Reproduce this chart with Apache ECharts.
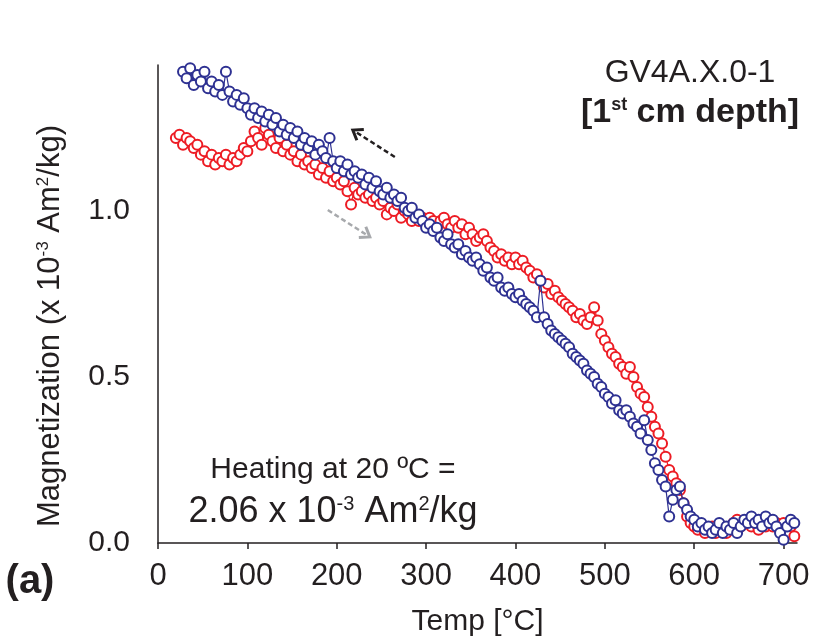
<!DOCTYPE html>
<html>
<head>
<meta charset="utf-8">
<script src="https://cdn.jsdelivr.net/npm/echarts@6/dist/echarts.min.js"></script>
<style>
html,body{margin:0;padding:0;background:#fff;}
#c{width:817px;height:637px;}
</style>
</head>
<body>
<div id="c"></div>
<script>
// Heating curve (red): temperature [°C] and magnetization [x 1e-3 Am2/kg]
const heatTemp = [20,24,28,32,36,40,44,48,52,56,60,64,68,72,76,80,84,88,92,96,100,104,108,112,116,120,124,128,132,136,140,144,148,152,156,160,164,168,172,176,180,184,188,192,196,200,204,208,212,216,220,224,228,232,236,240,244,248,252,256,260,264,268,272,276,280,284,288,292,296,300,304,308,312,316,320,324,328,332,336,340,344,348,352,356,360,364,368,372,376,380,384,388,392,396,400,404,408,412,416,420,424,428,432,436,440,444,448,452,456,460,464,468,472,476,480,484,488,492,496,500,504,508,512,516,520,524,528,532,536,540,544,548,552,556,560,564,568,572,576,580,584,588,592,596,600,604,608,612,616,620,624,628,632,636,640,644,648,652,656,660,664,668,672,676,680,684,688,692,696,700,704,708,712];
const heatMag = [1.22,1.23,1.20,1.22,1.21,1.19,1.20,1.17,1.18,1.15,
1.17,1.14,1.16,1.15,1.17,1.14,1.16,1.15,1.17,1.19,
1.18,1.21,1.24,1.22,1.20,1.25,1.23,1.21,1.19,1.22,
1.18,1.20,1.17,1.18,1.15,1.17,1.14,1.15,1.13,1.14,
1.11,1.13,1.10,1.12,1.09,1.10,1.08,1.09,1.06,1.02,
1.07,1.05,1.06,1.04,1.05,1.03,1.04,1.02,1.03,0.99,
1.01,1.00,1.02,0.98,1.00,0.99,0.97,0.99,0.97,0.98,
0.96,0.98,0.97,0.95,0.97,0.98,0.96,0.95,0.97,0.95,
0.96,0.93,0.95,0.93,0.91,0.92,0.93,0.91,0.89,0.88,
0.86,0.87,0.85,0.86,0.84,0.86,0.84,0.85,0.83,0.82,
0.80,0.81,0.79,0.77,0.78,0.75,0.76,0.74,0.73,0.72,
0.71,0.70,0.68,0.69,0.67,0.66,0.68,0.71,0.67,0.63,
0.61,0.59,0.57,0.56,0.54,0.53,0.51,0.53,0.50,0.47,
0.45,0.44,0.41,0.38,0.35,0.33,0.30,0.26,0.22,0.20,
0.18,0.16,0.12,0.08,0.06,0.05,0.04,0.05,0.03,0.04,
0.05,0.03,0.04,0.05,0.03,0.05,0.06,0.07,0.05,0.06,
0.07,0.05,0.06,0.04,0.06,0.05,0.07,0.05,0.06,0.04,
0.06,0.03,0.05,0.02];
// Cooling curve (blue)
const coolTemp = [28,32,36,40,44,48,52,56,60,64,68,72,76,80,84,88,92,96,100,104,108,112,116,120,124,128,132,136,140,144,148,152,156,160,164,168,172,176,180,184,188,192,196,200,204,208,212,216,220,224,228,232,236,240,244,248,252,256,260,264,268,272,276,280,284,288,292,296,300,304,308,312,316,320,324,328,332,336,340,344,348,352,356,360,364,368,372,376,380,384,388,392,396,400,404,408,412,416,420,424,428,432,436,440,444,448,452,456,460,464,468,472,476,480,484,488,492,496,500,504,508,512,516,520,524,528,532,536,540,544,548,552,556,560,564,568,572,576,580,584,588,592,596,600,604,608,612,616,620,624,628,632,636,640,644,648,652,656,660,664,668,672,676,680,684,688,692,696,700,704,708,712];
const coolMag = [1.42,1.40,1.43,1.38,1.41,1.39,1.42,1.37,1.39,1.36,
1.38,1.35,1.42,1.36,1.33,1.35,1.32,1.34,1.31,1.29,
1.31,1.28,1.30,1.27,1.29,1.26,1.28,1.24,1.26,1.23,
1.25,1.22,1.24,1.20,1.22,1.19,1.21,1.17,1.20,1.18,
1.16,1.22,1.15,1.13,1.15,1.12,1.14,1.11,1.12,1.10,
1.11,1.08,1.10,1.07,1.09,1.06,1.05,1.07,1.04,1.05,
1.03,1.04,1.01,1.00,1.01,0.98,0.99,0.97,0.95,0.96,
0.94,0.95,0.92,0.91,0.93,0.90,0.89,0.90,0.87,0.88,
0.86,0.85,0.86,0.84,0.82,0.83,0.80,0.79,0.80,0.77,
0.76,0.77,0.75,0.74,0.75,0.73,0.72,0.71,0.70,0.68,
0.79,0.68,0.66,0.64,0.63,0.62,0.61,0.60,0.59,0.57,
0.56,0.55,0.54,0.52,0.51,0.50,0.48,0.47,0.45,0.44,
0.42,0.43,0.40,0.39,0.40,0.38,0.36,0.35,0.33,0.37,
0.31,0.28,0.24,0.22,0.19,0.17,0.08,0.13,0.16,0.17,
0.12,0.10,0.08,0.07,0.05,0.06,0.04,0.05,0.03,0.04,
0.06,0.03,0.05,0.04,0.06,0.03,0.05,0.07,0.06,0.08,
0.06,0.07,0.05,0.08,0.06,0.07,0.05,0.03,0.01,0.05,
0.07,0.06];
// Axis ticks
const xTicks = [0,100,200,300,400,500,600,700];
const yTicks = [0.0,0.5,1.0];
// Direction arrows in data units: [tail, head]
const coolArrow = [[265,1.163],[218,1.244]];
const heatArrow = [[190,1.003],[237,0.922]];

const RED = '#ed1c24', BLUE = '#2e3192', INK = '#231f20';
const FONT = '"Liberation Sans", Arial, Helvetica, sans-serif';

const chart = echarts.init(document.getElementById('c'), null, {renderer:'canvas'});
chart.setOption({
  animation:false,
  backgroundColor:'#fff',
  textStyle:{fontFamily:FONT},
  grid:{left:158,right:20,top:65,bottom:94,containLabel:false,outerBoundsMode:'none'},
  xAxis:{
    type:'value',min:0,max:715,interval:100,
    name:'Temp [°C]',nameLocation:'middle',nameGap:64,
    nameTextStyle:{fontSize:30,color:INK,fontFamily:FONT},
    axisLine:{show:true,lineStyle:{color:INK,width:1.5}},
    axisTick:{show:true,length:6,inside:false,lineStyle:{color:INK,width:1.5}},
    axisLabel:{fontSize:31,color:INK,margin:18,showMaxLabel:false,
      formatter:v=> xTicks.indexOf(v)>=0 ? String(v) : ''},
    splitLine:{show:false}
  },
  yAxis:{
    type:'value',min:0,max:1.44,interval:0.5,
    name:'Magnetization (x 10{sup|-3} Am{sup|2}/kg)',nameLocation:'middle',nameRotate:90,nameGap:92,
    nameTextStyle:{fontSize:31,color:INK,fontFamily:FONT,padding:[0,44,0,0],
      rich:{sup:{fontSize:17,verticalAlign:'top',color:INK,fontFamily:FONT,padding:[0,0,12,0]}}},
    axisLine:{show:true,lineStyle:{color:INK,width:1.5}},
    axisTick:{show:false},
    axisLabel:{fontSize:30,color:INK,margin:28,showMaxLabel:false,
      formatter:v=> yTicks.indexOf(v)>=0 ? v.toFixed(1) : ''},
    splitLine:{show:false}
  },
  series:[
    {type:'line',name:'heating',data:heatTemp.map((t,i)=>[t,heatMag[i]]),
     symbol:'circle',symbolSize:10,showAllSymbol:true,
     lineStyle:{color:RED,width:1.2},
     itemStyle:{color:'#fff',borderColor:RED,borderWidth:2},z:2},
    {type:'line',name:'cooling',data:coolTemp.map((t,i)=>[t,coolMag[i]]),
     symbol:'circle',symbolSize:10,showAllSymbol:true,
     lineStyle:{color:BLUE,width:1.2},
     itemStyle:{color:'#fff',borderColor:BLUE,borderWidth:2},z:3}
  ]
});

function arrowGraphics(a,color){
  const p0 = chart.convertToPixel({gridIndex:0},a[0]);
  const p1 = chart.convertToPixel({gridIndex:0},a[1]);
  const dx=p1[0]-p0[0], dy=p1[1]-p0[1], L=Math.hypot(dx,dy);
  const ux=dx/L, uy=dy/L, hl=11, ang=Math.PI/5;
  const w1=[p1[0]-hl*(ux*Math.cos(ang)-uy*Math.sin(ang)), p1[1]-hl*(uy*Math.cos(ang)+ux*Math.sin(ang))];
  const w2=[p1[0]-hl*(ux*Math.cos(ang)+uy*Math.sin(ang)), p1[1]-hl*(uy*Math.cos(ang)-ux*Math.sin(ang))];
  return [
    {type:'line',shape:{x1:p0[0],y1:p0[1],x2:p1[0]-ux*2,y2:p1[1]-uy*2},
     style:{stroke:color,lineWidth:2.5,lineDash:[5,3]},z:10},
    {type:'polyline',shape:{points:[w1,p1,w2]},style:{stroke:color,lineWidth:3,fill:null},z:10}
  ];
}

chart.setOption({graphic:[
  ...arrowGraphics(coolArrow,INK),
  ...arrowGraphics(heatArrow,'#a7a9ac'),
  {type:'text',style:{text:'GV4A.X.0-1',x:690,y:73,align:'center',verticalAlign:'middle',
    font:'32px '+FONT,fill:INK},z:10},
  {type:'text',style:{x:690,y:113,align:'center',verticalAlign:'middle',
    text:'[1{s|st} cm depth]',font:'bold 34px '+FONT,fill:INK,
    rich:{s:{font:'bold 18px '+FONT,verticalAlign:'top',padding:[0,0,14,0],fill:INK}}},z:10},
  {type:'text',style:{x:333,y:470,align:'center',verticalAlign:'middle',
    text:'Heating at 20 ºC =',font:'30px '+FONT,fill:INK},z:10},
  {type:'text',style:{x:333,y:512,align:'center',verticalAlign:'middle',
    text:'2.06 x 10{s|-3} Am{s|2}/kg',font:'36px '+FONT,fill:INK,
    rich:{s:{font:'20px '+FONT,verticalAlign:'top',padding:[0,0,14,0],fill:INK}}},z:10},
  {type:'text',style:{x:30,y:582,align:'center',verticalAlign:'middle',
    text:'(a)',font:'bold 40px '+FONT,fill:INK},z:10}
]});
</script>
</body>
</html>
